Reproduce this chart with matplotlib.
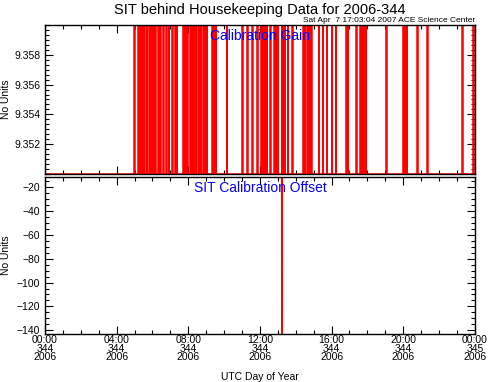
import matplotlib
matplotlib.use('Agg')
import matplotlib.pyplot as plt
from matplotlib.ticker import MultipleLocator

plt.rcParams['font.family'] = ['Liberation Sans', 'DejaVu Sans']

# 校准增益: 高电平区间 (小时)
gain_high_start = [4.97, 5.19, 5.30, 5.41, 5.53, 5.69, 5.81, 5.92, 6.03, 6.14,
                   6.31, 6.42, 6.59, 6.75, 6.92, 7.09, 7.26, 7.37, 7.70, 7.81,
                   7.93, 8.12, 8.21, 8.32, 8.43, 8.60, 8.71, 8.82, 8.93, 9.04,
                   9.32, 9.43, 9.54, 10.16, 11.00, 11.27, 11.55, 11.83, 12.06, 12.17,
                   12.28, 12.39, 12.56, 12.78, 12.89, 13.01, 13.23, 13.28, 13.40, 13.56,
                   13.79, 14.40, 14.51, 14.62, 14.74, 14.85, 15.29, 15.52, 15.74, 16.02,
                   16.24, 16.80, 16.91, 17.36, 17.58, 17.69, 17.81, 17.92, 19.03, 19.98,
                   20.09, 20.21, 20.76, 21.32, 23.27, 23.89]
gain_high_end = [5.02, 5.25, 5.36, 5.47, 5.58, 5.72, 5.86, 5.97, 6.08, 6.20,
                 6.36, 6.47, 6.64, 6.81, 6.94, 7.14, 7.31, 7.39, 7.76, 7.87,
                 7.98, 8.18, 8.26, 8.37, 8.48, 8.62, 8.73, 8.87, 8.99, 9.06,
                 9.38, 9.49, 9.57, 10.18, 11.05, 11.33, 11.61, 11.89, 12.11, 12.22,
                 12.34, 12.41, 12.61, 12.84, 12.95, 13.03, 13.25, 13.34, 13.42, 13.59,
                 13.84, 14.46, 14.53, 14.68, 14.79, 14.90, 15.32, 15.54, 15.76, 16.04,
                 16.26, 16.86, 16.93, 17.41, 17.64, 17.75, 17.86, 17.94, 19.09, 20.04,
                 20.15, 20.23, 20.82, 21.38, 23.33, 23.94]
gain_low = 9.35003
gain_high = 9.3600

# 校准偏移
offset_hours = [0.0, 13.215, 13.22, 13.225, 24.0]
offset_values = [-12.0, -12.0, -143.0, -12.0, -12.0]

# x轴刻度
tick_hours = [0, 4, 8, 12, 16, 20, 24]
tick_times = ['00:00', '04:00', '08:00', '12:00', '16:00', '20:00', '00:00']
tick_doy = ['344', '344', '344', '344', '344', '344', '345']
tick_year = ['2006', '2006', '2006', '2006', '2006', '2006', '2006']

# 组装阶梯数据
gain_t = [0.0]
gain_v = [gain_low]
for s, e in zip(gain_high_start, gain_high_end):
    gain_t += [s, s, e, e]
    gain_v += [gain_low, gain_high, gain_high, gain_low]
gain_t.append(24.0)
gain_v.append(gain_low)

fig = plt.figure(figsize=(4.89, 3.82), dpi=100)
ax1 = fig.add_axes([0.092, 0.5445, 0.879, 0.3901])
ax2 = fig.add_axes([0.092, 0.1257, 0.879, 0.4120])


def style_axis(ax):
    ax.set_xlim(0, 24)
    ax.xaxis.set_major_locator(MultipleLocator(4))
    ax.xaxis.set_minor_locator(MultipleLocator(1))
    ax.tick_params(which='both', direction='in', top=True, right=True,
                   width=0.8, labelsize=7.5, colors='black')
    ax.tick_params(which='major', length=6)
    ax.tick_params(which='minor', length=3)
    for sp in ax.spines.values():
        sp.set_linewidth(1.0)
        sp.set_zorder(5)


# 上图: 校准增益
ax1.plot(gain_t, gain_v, color='red', linewidth=1.1, solid_joinstyle='miter')
style_axis(ax1)
ax1.set_ylim(9.3500, 9.3600)
ax1.yaxis.set_major_locator(MultipleLocator(0.002))
ax1.yaxis.set_minor_locator(MultipleLocator(0.002 / 6))
ax1.set_yticks([9.352, 9.354, 9.356, 9.358])
ax1.set_yticklabels(['9.352', '9.354', '9.356', '9.358'])
ax1.set_xticklabels([])
ax1.set_ylabel('No Units', fontsize=7.5)
ax1.yaxis.set_label_coords(-0.078, 0.5)
ax1.text(0.5, 0.925, 'Calibration Gain', transform=ax1.transAxes, color='blue',
         ha='center', va='center', fontsize=10)

# 下图: 校准偏移
ax2.plot(offset_hours, offset_values, color='red', linewidth=1.1)
style_axis(ax2)
ax2.set_ylim(-143, -11.5)
ax2.yaxis.set_major_locator(MultipleLocator(20))
ax2.yaxis.set_minor_locator(MultipleLocator(5))
ax2.set_yticks([-140, -120, -100, -80, -60, -40, -20])
ax2.set_yticklabels(['\u2212140', '\u2212120', '\u2212100', '\u221280', '\u221260', '\u221240', '\u221220'])
ax2.set_xticks(tick_hours)
ax2.set_xticklabels([t + '\n' + d + '\n' + y for t, d, y in zip(tick_times, tick_doy, tick_year)],
                    linespacing=0.78)
ax2.tick_params(axis='x', pad=1)
ax2.set_ylabel('No Units', fontsize=7.5)
ax2.yaxis.set_label_coords(-0.078, 0.5)
ax2.set_xlabel('UTC Day of Year', fontsize=7.5, labelpad=7)
ax2.text(0.5, 0.93, 'SIT Calibration Offset', transform=ax2.transAxes, color='blue',
         ha='center', va='center', fontsize=10)

# 标题
fig.text(0.532, 0.973, 'SIT behind Housekeeping Data for 2006-344', ha='center', va='center',
         fontsize=10.5)
fig.text(0.971, 0.947, 'Sat Apr  7 17:03:04 2007 ACE Science Center', ha='right', va='center',
         fontsize=6)

plt.savefig('out.png', dpi=100)
